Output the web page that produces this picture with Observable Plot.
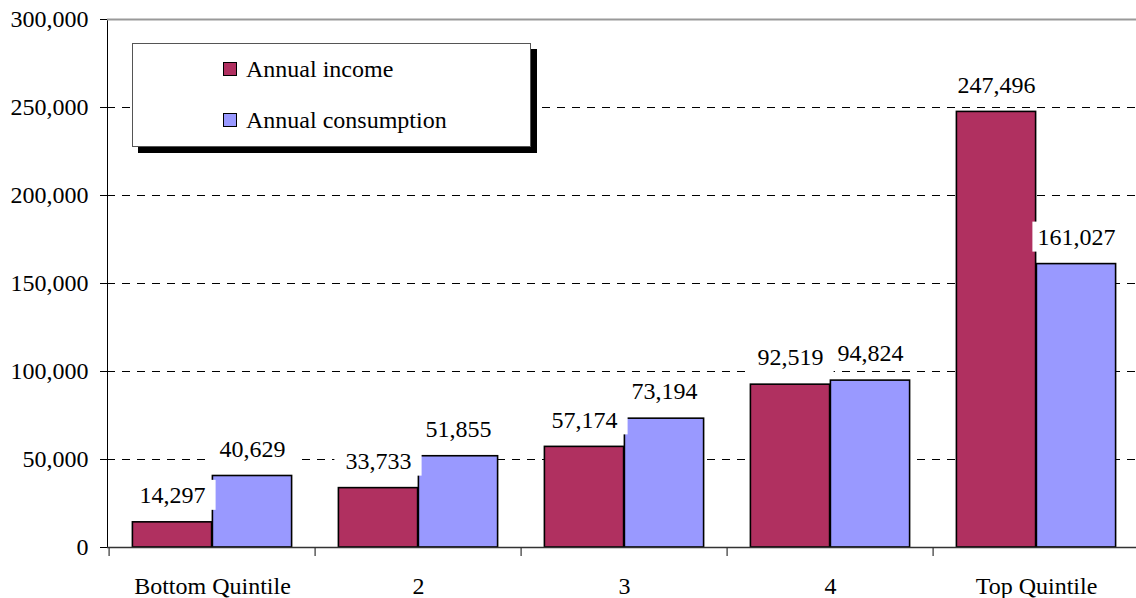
<!DOCTYPE html>
<html><head><meta charset="utf-8">
<script src="https://cdn.jsdelivr.net/npm/d3@7"></script>
<script src="https://cdn.jsdelivr.net/npm/@observablehq/plot@0.6"></script>
<style>
body{margin:0;background:#fff;}
#wrap{position:relative;width:1136px;height:598px;font-family:"Liberation Serif","Times New Roman","DejaVu Serif",serif;overflow:hidden;}
#wrap svg, #wrap svg text{font-family:"Liberation Serif","Times New Roman","DejaVu Serif",serif !important;}
#legend{position:absolute;left:132px;top:43px;width:397px;height:102px;border:1px solid #555;background:#fff;box-shadow:6px 6px 0 #000;}
.item{position:absolute;left:90px;display:flex;align-items:center;font-size:24px;line-height:24px;color:#000;white-space:nowrap;}
.sw{width:12px;height:12px;border:1.5px solid #000;margin-right:9px;}
</style></head><body><div id="wrap"></div>
<script>
const categories = ["Bottom Quintile", "2", "3", "4", "Top Quintile"];
const income = [14297, 33733, 57174, 92519, 247496];
const consumption = [40629, 51855, 73194, 94824, 161027];
const seriesNames = ["Annual income", "Annual consumption"];
const seriesColors = ["#B03060", "#9999FF"];
const yTicks = [0, 50000, 100000, 150000, 200000, 250000, 300000];
const gridValues = [50000, 100000, 150000, 200000, 250000];

const fmt = d3.format(",");
const incomeRows = categories.map((c, i) => ({cat: c, value: income[i]}));
const consRows = categories.map((c, i) => ({cat: c, value: consumption[i]}));

const chart = Plot.plot({
  width: 1136,
  height: 598,
  marginLeft: 107,
  marginRight: 0,
  marginTop: 19,
  marginBottom: 51,
  style: {fontSize: "24px", background: "#fff", color: "#000", overflow: "visible"},
  x: {type: "band", domain: categories, range: [107, 1141], padding: 0, tickSize: 0, tickPadding: 29, label: null},
  y: {domain: [0, 300000], ticks: yTicks, tickFormat: fmt, tickSize: 7, tickPadding: 12, line: true, label: null},
  marks: [
    Plot.ruleY(gridValues, {stroke: "#000", strokeWidth: 1, strokeDasharray: "8,7"}),
    Plot.ruleY([300000], {stroke: "#999", strokeWidth: 2}),
    Plot.barY(incomeRows, {x: "cat", y: "value", fill: seriesColors[0], stroke: "#000", strokeWidth: 1.6, insetLeft: 23.4, insetRight: 103.4}),
    Plot.barY(consRows, {x: "cat", y: "value", fill: seriesColors[1], stroke: "#000", strokeWidth: 1.6, insetLeft: 103.4, insetRight: 23.4}),
    Plot.barY(incomeRows, {x: "cat", y1: "value", y2: "value", fill: "#fff", insetLeft: 19.4, insetRight: 99.4, insetTop: -42, insetBottom: 12}),
    Plot.barY(consRows, {x: "cat", y1: "value", y2: "value", fill: "#fff", insetLeft: 99.4, insetRight: 19.4, insetTop: -42, insetBottom: 12}),
    Plot.text(incomeRows, {x: "cat", y: "value", text: d => fmt(d.value), dx: -40, dy: -27, fill: "#000"}),
    Plot.text(consRows, {x: "cat", y: "value", text: d => fmt(d.value), dx: 40, dy: -27, fill: "#000"}),
    Plot.ruleY([0], {stroke: "#333", strokeWidth: 1.5}),
    Plot.ruleX(categories, {x: d => d, dx: -103.4, y1: 0, y2: 0, insetBottom: -9, stroke: "#333", strokeWidth: 1.2})
  ]
});
const wrap = document.getElementById("wrap");
wrap.appendChild(chart);

const legend = document.createElement("div");
legend.id = "legend";
seriesNames.forEach((name, i) => {
  const item = document.createElement("div");
  item.className = "item";
  item.style.top = (13 + i * 51) + "px";
  const sw = document.createElement("span");
  sw.className = "sw";
  sw.style.background = seriesColors[i];
  item.appendChild(sw);
  item.appendChild(document.createTextNode(name));
  legend.appendChild(item);
});
wrap.appendChild(legend);
</script></body></html>
